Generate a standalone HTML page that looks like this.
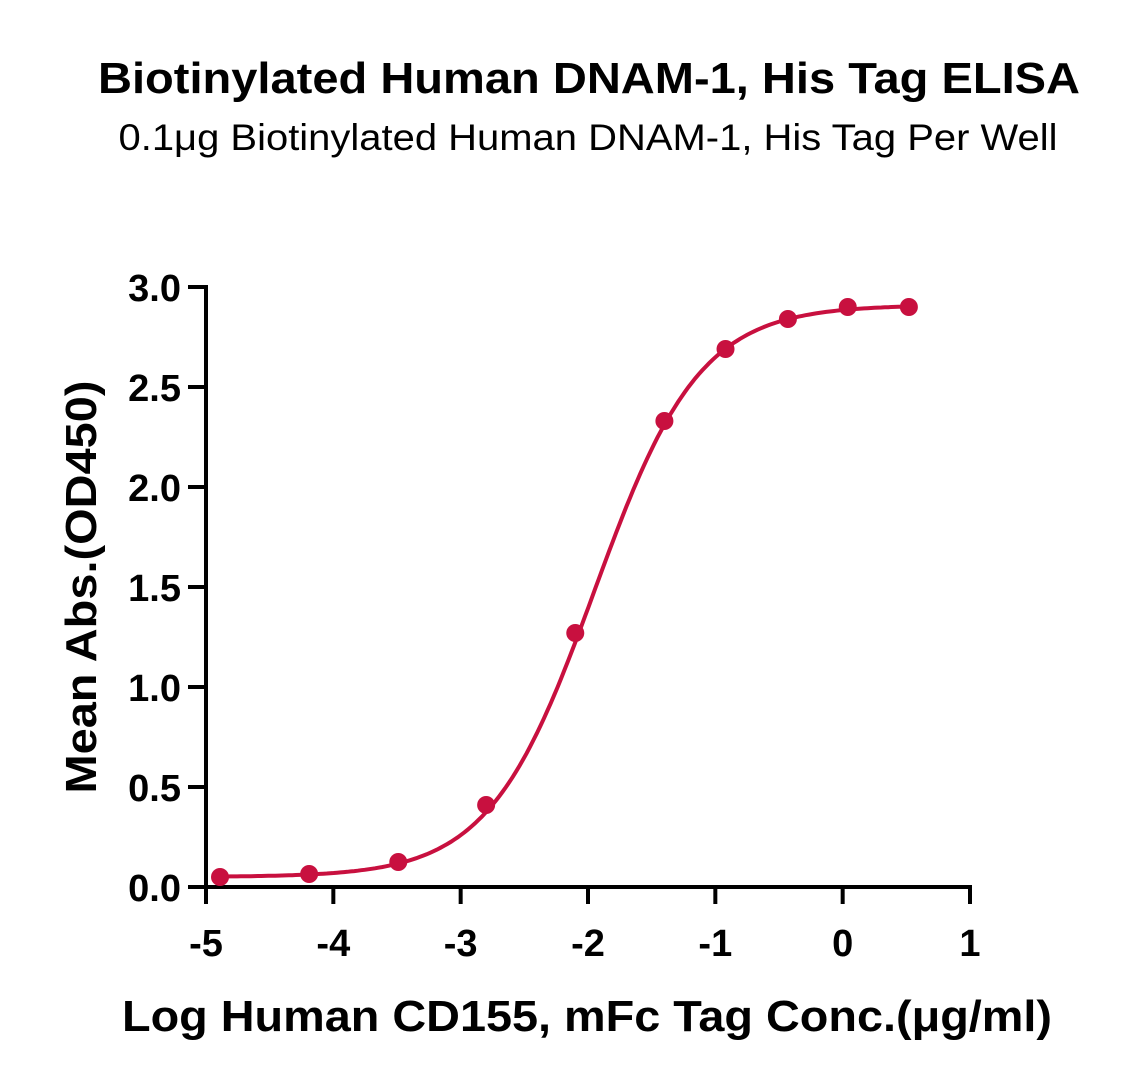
<!DOCTYPE html>
<html><head><meta charset="utf-8"><style>
html,body{margin:0;padding:0;background:#fff;}
svg{display:block;font-family:"Liberation Sans",sans-serif;}
</style></head><body>
<svg id="chart" width="1123" height="1086" viewBox="0 0 1123 1086">
<text x="589" y="93" text-anchor="middle" font-size="44" font-weight="bold" textLength="982" lengthAdjust="spacingAndGlyphs">Biotinylated Human DNAM-1, His Tag ELISA</text>
<text x="588" y="150" text-anchor="middle" font-size="37" textLength="939" lengthAdjust="spacingAndGlyphs">0.1μg Biotinylated Human DNAM-1, His Tag Per Well</text>
<text x="587" y="1031" text-anchor="middle" font-size="44" font-weight="bold" textLength="930" lengthAdjust="spacingAndGlyphs">Log Human CD155, mFc Tag Conc.(μg/ml)</text>
<text transform="translate(96,587) rotate(-90)" text-anchor="middle" font-size="44" font-weight="bold" textLength="413" lengthAdjust="spacingAndGlyphs">Mean Abs.(OD450)</text>
<g id="axes"></g>
<g id="plot"></g>
</svg>
<script>
const xLog = [-4.89, -4.19, -3.49, -2.80, -2.10, -1.40, -0.92, -0.43, 0.04, 0.52];
const yOD = [0.05, 0.065, 0.125, 0.41, 1.27, 2.33, 2.69, 2.84, 2.90, 2.90];
const xTicks = [-5, -4, -3, -2, -1, 0, 1];
const yTicks = [0.0, 0.5, 1.0, 1.5, 2.0, 2.5, 3.0];
const fitBottom = [0.05];
const fitTop = [2.91];
const fitLogEC50 = [-1.95];
const fitHill = [1.05];

const NS = "http://www.w3.org/2000/svg";
const X0 = 206, X1 = 970, Y0 = 887, Y1 = 287;
const xs = v => X0 + (v + 5) / 6 * (X1 - X0);
const ys = v => Y0 - v / 3 * (Y0 - Y1);
function mk(tag, attrs, parent) {
  const e = document.createElementNS(NS, tag);
  for (const k in attrs) e.setAttribute(k, attrs[k]);
  parent.appendChild(e);
  return e;
}
const axes = document.getElementById('axes');
const plot = document.getElementById('plot');
const xa = mk('line', {x1: X0, y1: Y0, x2: X1 + 2, y2: Y0, stroke: '#000', 'stroke-width': 4}, axes);


const ya = mk('line', {x1: X0, y1: Y1 - 2, x2: X0, y2: Y0 + 2, stroke: '#000', 'stroke-width': 4}, axes);


xTicks.forEach(t => {
  const l = mk('line', {x1: xs(t), y1: Y0, x2: xs(t), y2: 904, stroke: '#000', 'stroke-width': 4}, axes);
  
  
  const tx = mk('text', {x: xs(t), y: 956, 'text-anchor': 'middle', 'font-size': 38, 'font-weight': 'bold'}, axes);
  tx.textContent = String(t);
  
  
});
yTicks.forEach(t => {
  const l = mk('line', {x1: 188, y1: ys(t), x2: X0, y2: ys(t), stroke: '#000', 'stroke-width': 4}, axes);
  
  
  const tx = mk('text', {x: 181, y: ys(t) + 14, 'text-anchor': 'end', 'font-size': 38, 'font-weight': 'bold'}, axes);
  tx.textContent = t.toFixed(1);
  
  
});
const f = x => fitBottom[0] + (fitTop[0] - fitBottom[0]) / (1 + Math.pow(10, (fitLogEC50[0] - x) * fitHill[0]));
let d = '';
const xmin = xLog[0], xmax = xLog[xLog.length - 1];
for (let i = 0; i <= 200; i++) {
  const x = xmin + (xmax - xmin) * i / 200;
  d += (i ? 'L' : 'M') + xs(x).toFixed(1) + ',' + ys(f(x)).toFixed(1);
}
const curve = mk('path', {d: d, fill: 'none', stroke: '#c8103f', 'stroke-width': 4}, plot);


xLog.forEach((x, i) => {
  const c = mk('circle', {cx: xs(x), cy: ys(yOD[i]), r: 9, fill: '#c8103f'}, plot);
  
  
});
</script>
</body></html>
